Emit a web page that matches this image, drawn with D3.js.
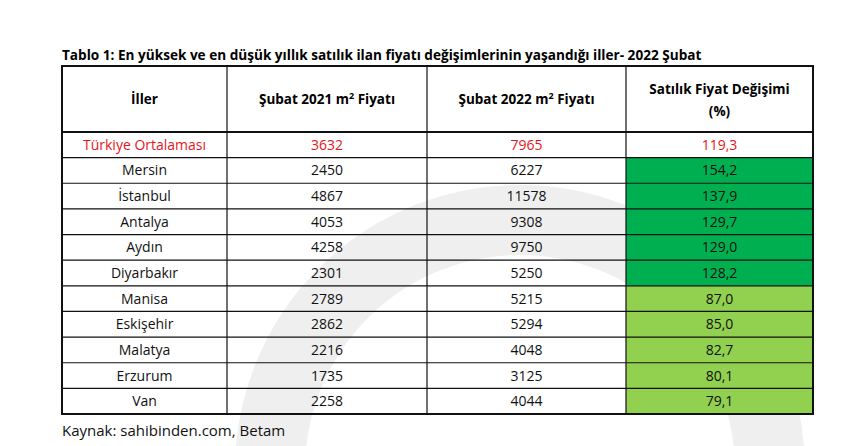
<!DOCTYPE html>
<html><head><meta charset="utf-8">
<script src="https://cdn.jsdelivr.net/npm/d3@7"></script>
<style>body{margin:0;background:#fff}</style></head>
<body><svg id="c" width="850" height="446"></svg>
<script>
const headers = ["İller", "Şubat 2021 m² Fiyatı", "Şubat 2022 m² Fiyatı", "Satılık Fiyat Değişimi|(%)"];
const cities = ["Türkiye Ortalaması","Mersin","İstanbul","Antalya","Aydın","Diyarbakır","Manisa","Eskişehir","Malatya","Erzurum","Van"];
const price2021 = [3632,2450,4867,4053,4258,2301,2789,2862,2216,1735,2258];
const price2022 = [7965,6227,11578,9308,9750,5250,5215,5294,4048,3125,4044];
const change = ["119,3","154,2","137,9","129,7","129,0","128,2","87,0","85,0","82,7","80,1","79,1"];
const group = ["avg","high","high","high","high","high","low","low","low","low","low"];

const svg = d3.select("#c");
const font = "'Open Sans', 'Liberation Sans', sans-serif";
// watermark
svg.append("circle").attr("cx",520).attr("cy",470).attr("r",250)
  .attr("fill","none").attr("stroke","#efefef").attr("stroke-width",70);

svg.append("text").attr("x",62).attr("y",60).attr("font-family",font)
  .attr("font-weight","bold").attr("font-size",13.6).attr("fill","#000")
  .text("Tablo 1: En yüksek ve en düşük yıllık satılık ilan fiyatı değişimlerinin yaşandığı iller- 2022 Şubat");

const colX = [62,227,427,626,813];
const tableTop = 66, headBottom = 132;
const y = d3.scaleBand().domain(d3.range(cities.length)).range([headBottom,414]);
const fillMap = {avg:"none", high:"#00b050", low:"#92d050"};

headers.forEach((h,i)=>{
  const cx=(colX[i]+colX[i+1])/2, parts=h.split("|");
  const t=svg.append("text").attr("font-family",font).attr("font-weight","bold")
    .attr("font-size",13.5).attr("text-anchor","middle");
  parts.forEach((p,j)=>{
    const ts=t.append("tspan").attr("x",cx).attr("y",parts.length>1?94+j*22:104);
    if(p.includes("m²")){
      const [a,b]=p.split("m²");
      ts.text(a+"m"); t.append("tspan").attr("dy",-5).attr("font-size",9).text("2");
      t.append("tspan").attr("dy",5).text(b);
    } else ts.text(p);
  });
});

const rows = svg.append("g").selectAll("g").data(cities).join("g");
rows.append("rect").attr("x",colX[3]).attr("y",(d,i)=>y(i)).attr("width",colX[4]-colX[3])
  .attr("height",y.bandwidth()).attr("fill",(d,i)=>fillMap[group[i]]);
const cols=[cities,price2021,price2022,change];
cols.forEach((arr,c)=>{
  rows.append("text").attr("x",(colX[c]+colX[c+1])/2).attr("y",(d,i)=>y(i)+y.bandwidth()/2+5)
    .attr("text-anchor","middle").attr("font-family",font).attr("font-size",14)
    .attr("fill",(d,i)=>group[i]==="avg"?"#e8141b":"#111").text((d,i)=>arr[i]);
});
const g=svg.append("g").attr("stroke","#111");
d3.range(1,cities.length).forEach(i=>g.append("line").attr("x1",colX[0]).attr("x2",colX[4])
  .attr("y1",y(i)).attr("y2",y(i)).attr("stroke-width",1.2));
g.append("line").attr("x1",colX[0]).attr("x2",colX[4]).attr("y1",headBottom).attr("y2",headBottom).attr("stroke-width",2.2);
colX.slice(1,4).forEach(x=>g.append("line").attr("x1",x).attr("x2",x).attr("y1",tableTop).attr("y2",414).attr("stroke-width",1.2));
g.append("rect").attr("x",colX[0]).attr("y",tableTop).attr("width",colX[4]-colX[0]).attr("height",414-tableTop)
  .attr("fill","none").attr("stroke-width",2);

svg.append("text").attr("x",62).attr("y",436).attr("font-family",font).attr("font-size",15)
  .attr("fill","#111").text("Kaynak: sahibinden.com, Betam");
</script></body></html>
